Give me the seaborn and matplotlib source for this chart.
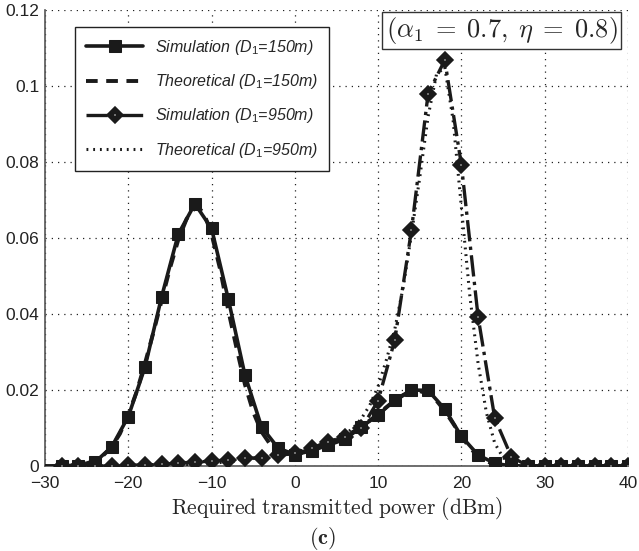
import numpy as np
import pandas as pd
import matplotlib
matplotlib.use("Agg")
import matplotlib.pyplot as plt
import seaborn as sns

# ---- data ----
x_sim = [-28, -26, -24, -22, -20, -18, -16, -14, -12, -10, -8, -6, -4, -2, 0, 2, 4, 6, 8,
         10, 12, 14, 16, 18, 20, 22, 24, 26, 28, 30, 32, 34, 36, 38, 40]
sim_150 = [0.0, 0.0, 0.001, 0.005, 0.013, 0.026, 0.0445, 0.061, 0.069, 0.0625, 0.044, 0.024,
           0.0103, 0.0047, 0.003, 0.004, 0.0055, 0.007, 0.0103, 0.0134, 0.0174, 0.0200, 0.0199,
           0.0150, 0.0078, 0.0029, 0.0007, 0.0, 0.0, 0.0, 0.0, 0.0, 0.0, 0.0, 0.0]
sim_950 = [0.0, 0.0, 0.0, 0.0, 0.0002, 0.0003, 0.0004, 0.0008, 0.001, 0.0013, 0.0016, 0.002,
           0.0022, 0.0028, 0.0033, 0.0047, 0.0064, 0.0077, 0.0099, 0.0172, 0.0332, 0.0621,
           0.098, 0.1068, 0.0792, 0.0393, 0.0126, 0.0024, 0.0, 0.0, 0.0, 0.0, 0.0, 0.0, 0.0]

x_th = list(range(-30, 41))
th_150 = [0.0, 0.0, 0.0, 0.0001, 0.0003, 0.0007, 0.0014, 0.0028, 0.005, 0.0085,
          0.0135, 0.0195, 0.027, 0.035, 0.0435, 0.052, 0.0595, 0.065, 0.068, 0.067,
          0.061, 0.052, 0.041, 0.031, 0.0215, 0.0142, 0.009, 0.0058, 0.0042, 0.0036,
          0.0035, 0.0038, 0.0044, 0.0051, 0.0059, 0.0068, 0.0078, 0.009, 0.0104, 0.012,
          0.0137, 0.0155, 0.0172, 0.0186, 0.0195, 0.0197, 0.019, 0.0172, 0.0145, 0.0112,
          0.0078, 0.0048, 0.0026, 0.0012, 0.0005, 0.0002, 0.0001, 0.0, 0.0, 0.0,
          0.0, 0.0, 0.0, 0.0, 0.0, 0.0, 0.0, 0.0, 0.0, 0.0, 0.0]
th_950 = [0.0, 0.0, 0.0, 0.0, 0.0, 0.0, 0.0, 0.0, 0.0, 0.0,
          0.0, 0.0, 0.0, 0.0, 0.0001, 0.0002, 0.0002, 0.0003, 0.0004, 0.0005,
          0.0007, 0.0009, 0.0011, 0.0014, 0.0017, 0.002, 0.0023, 0.0026, 0.003, 0.0034,
          0.0038, 0.0043, 0.0049, 0.0055, 0.0063, 0.0073, 0.0083, 0.01, 0.0125, 0.016,
          0.021, 0.028, 0.036, 0.047, 0.061, 0.076, 0.092, 0.103, 0.105, 0.091,
          0.068, 0.045, 0.027, 0.014, 0.006, 0.0022, 0.0007, 0.0002, 0.0, 0.0,
          0.0, 0.0, 0.0, 0.0, 0.0, 0.0, 0.0, 0.0, 0.0, 0.0, 0.0]

x_ticks = [-30, -20, -10, 0, 10, 20, 30, 40]
y_ticks = [0, 0.02, 0.04, 0.06, 0.08, 0.1, 0.12]
y_ticklabels = ["0", "0.02", "0.04", "0.06", "0.08", "0.1", "0.12"]
labels = [r"Simulation (D$_1$=150m)", r"Theoretical (D$_1$=150m)",
          r"Simulation (D$_1$=950m)", r"Theoretical (D$_1$=950m)"]

sns.set_style("white")
plt.rcParams["font.family"] = ["Liberation Sans", "DejaVu Sans"]
plt.rcParams["mathtext.fontset"] = "custom"
plt.rcParams["mathtext.rm"] = "Liberation Sans"
plt.rcParams["mathtext.it"] = "Liberation Sans:italic"

fig = plt.figure(figsize=(6.39, 5.51), dpi=100)
ax = fig.add_axes([45 / 639, 1 - 466 / 551, (628 - 45) / 639, (466 - 10) / 551])

df_s150 = pd.DataFrame({"x": x_sim, "y": sim_150})
df_s950 = pd.DataFrame({"x": x_sim, "y": sim_950})
df_t150 = pd.DataFrame({"x": x_th, "y": th_150})
df_t950 = pd.DataFrame({"x": x_th, "y": th_950})

k = "#1a1a1a"
sns.lineplot(data=df_t150, x="x", y="y", ax=ax, color=k, lw=2.8, linestyle=(0, (3, 2.2)),
             label=labels[1], zorder=3)
sns.lineplot(data=df_t950, x="x", y="y", ax=ax, color=k, lw=2.2, linestyle=(0, (0.6, 1.6)),
             label=labels[3], zorder=3)
sns.lineplot(data=df_s150, x="x", y="y", ax=ax, color=k, lw=2.6, marker="s", markersize=8,
             markeredgecolor=k, markerfacecolor=k, label=labels[0], zorder=4)
sns.lineplot(data=df_s950, x="x", y="y", ax=ax, color=k, lw=2.4, linestyle="-.", marker="D",
             markersize=5.5, markeredgecolor=k, markerfacecolor="white", markeredgewidth=4.2,
             label=labels[2], zorder=5)

ax.set_xlim(-30, 40)
ax.set_ylim(0, 0.12)
ax.set_xticks(x_ticks)
ax.set_yticks(y_ticks)
ax.set_yticklabels(y_ticklabels)
ax.tick_params(direction="in", length=5, labelsize=12.5, colors="#222222", pad=4)
ax.tick_params(axis="x", pad=7)
ax.grid(True, color="#222222", linestyle=(0, (1, 4)), linewidth=0.9)
for s in ["top", "right"]:
    ax.spines[s].set_visible(False)
for s in ["left", "bottom"]:
    ax.spines[s].set_color("#555555")
    ax.spines[s].set_linewidth(1.2)
ax.set_ylabel("")
ax.set_xlabel(r"$\mathrm{Required\ transmitted\ power\ (dBm)}$", fontsize=15.5,
              math_fontfamily="cm", labelpad=3)

handles, lbls = ax.get_legend_handles_labels()
order = [lbls.index(l) for l in labels]
leg = ax.legend([handles[i] for i in order], [lbls[i] for i in order],
                loc="upper left", bbox_to_anchor=(0.051, 0.963), borderaxespad=0,
                frameon=True, fancybox=False, edgecolor="#222222", framealpha=1,
                prop={"family": "Liberation Sans", "style": "italic", "size": 11.5},
                handlelength=3.6, labelspacing=0.95, borderpad=0.7, handletextpad=0.7)
leg.get_frame().set_linewidth(1.0)

ax.text(0.783, 0.955, r"$(\alpha_1 \;=\; 0.7,\; \eta \;=\; 0.8)$", transform=ax.transAxes,
        ha="center", va="center", fontsize=19, math_fontfamily="cm",
        bbox=dict(boxstyle="square,pad=0.12", facecolor="white", edgecolor="#333333", lw=1.0),
        zorder=10, clip_on=False)

fig.text(322 / 639, 1 - 538 / 551, r"$\mathbf{(c)}$", ha="center", va="center",
         fontsize=16, math_fontfamily="cm")

fig.savefig("out.png", dpi=100)
